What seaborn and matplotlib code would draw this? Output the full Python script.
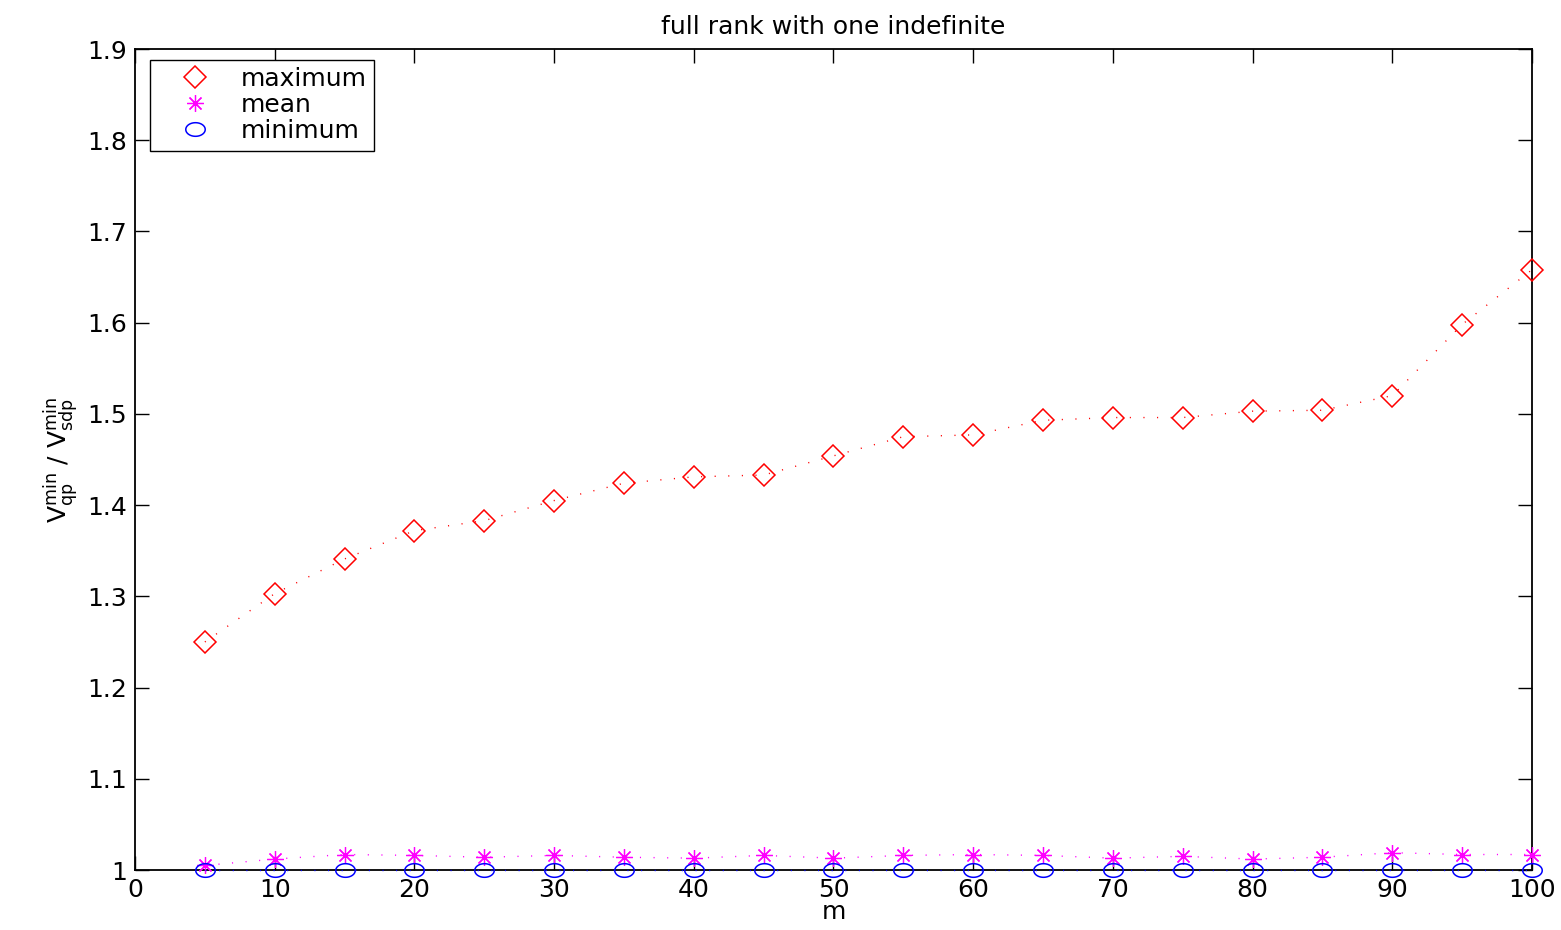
import numpy as np
import pandas as pd
import matplotlib
matplotlib.use("Agg")
import matplotlib.pyplot as plt
from matplotlib.lines import Line2D
from matplotlib.path import Path
from matplotlib.ticker import FormatStrFormatter
import seaborn as sns

sns.set_style("ticks")
plt.rcParams['font.family'] = ['DejaVu Sans']
plt.rcParams['mathtext.default'] = 'regular'
plt.rcParams['text.color'] = 'black'
plt.rcParams['axes.labelcolor'] = 'black'
plt.rcParams['xtick.color'] = 'black'
plt.rcParams['ytick.color'] = 'black'

m = [5, 10, 15, 20, 25, 30, 35, 40, 45, 50, 55, 60, 65, 70, 75, 80, 85, 90, 95, 100]
maximum = [1.250, 1.303, 1.341, 1.372, 1.383, 1.405, 1.424, 1.431, 1.433, 1.454,
           1.475, 1.477, 1.493, 1.496, 1.496, 1.503, 1.504, 1.520, 1.598, 1.658]
mean = [1.005, 1.012, 1.017, 1.016, 1.014, 1.016, 1.014, 1.013, 1.016, 1.013,
        1.016, 1.017, 1.016, 1.013, 1.015, 1.012, 1.014, 1.019, 1.017, 1.017]
minimum = [1.0] * len(m)

df = pd.DataFrame({'m': m, 'maximum': maximum, 'mean': mean, 'minimum': minimum})

# wide ellipse marker (the circles in the original are stretched sideways)
t = np.linspace(0, 2 * np.pi, 60)
ellipse = Path(np.column_stack([np.cos(t), 0.7 * np.sin(t)]), closed=True)

fig = plt.figure(figsize=(15.61, 9.30), dpi=100)
ax = fig.add_axes([0.0865, 0.0645, 0.8949, 0.8828])

styles = {
    'maximum': dict(color='red', marker='D', ms=11, mew=1.1),
    'mean': dict(color='magenta', marker=(8, 2, 0), ms=12, mew=0.9),
    'minimum': dict(color='blue', marker=ellipse, ms=14, mew=1.1),
}
for name, st in styles.items():
    sns.lineplot(data=df, x='m', y=name, ax=ax, color=st['color'],
                 linewidth=1.0, marker=st['marker'], markersize=st['ms'],
                 markerfacecolor='none', markeredgecolor=st['color'],
                 markeredgewidth=st['mew'], clip_on=False, zorder=3)
    ax.lines[-1].set_dashes((0.8, 9))

ax.set_xlim(0, 100)
ax.set_ylim(1.0, 1.9)
ax.set_xticks(np.arange(0, 101, 10))
ax.set_yticks(np.arange(1.0, 1.91, 0.1))
ax.yaxis.set_major_formatter(FormatStrFormatter('%g'))
ax.tick_params(direction='in', length=10, width=1, labelsize=18, top=True, right=True,
               pad=6, color='black', labelcolor='black')
for s in ax.spines.values():
    s.set_linewidth(1.3)
    s.set_color('black')
    s.set_zorder(2)

ax.set_title('full rank with one indefinite', fontsize=18, pad=11, color='black')
ax.set_xlabel('m', fontsize=18, labelpad=-2)
ax.set_ylabel('$V_{qp}^{min}$ / $V_{sdp}^{min}$', fontsize=18, labelpad=4)

handles = [Line2D([], [], linestyle='none', marker=styles[n]['marker'],
                  markersize=styles[n]['ms'], markerfacecolor='none',
                  markeredgecolor=styles[n]['color'], markeredgewidth=styles[n]['mew'])
           for n in styles]
leg = ax.legend(handles, list(styles.keys()), loc='upper left', fontsize=18,
                bbox_to_anchor=(0.011, 0.987), borderaxespad=0, frameon=True,
                fancybox=False, edgecolor='black', framealpha=1,
                handlelength=3.0, handletextpad=0.3, labelspacing=0.08,
                borderpad=0.3)
leg.get_frame().set_linewidth(1.0)

fig.savefig('out.png', dpi=100)
